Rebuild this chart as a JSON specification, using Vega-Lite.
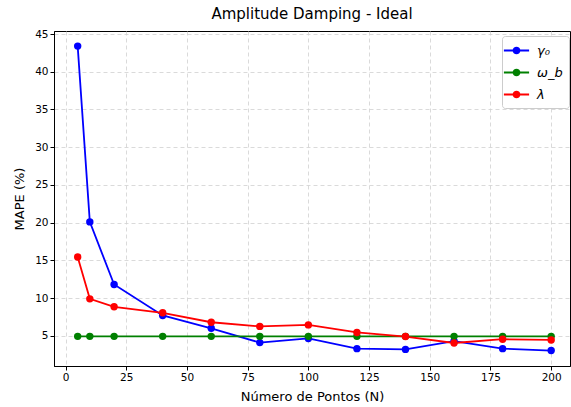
{
  "$schema": "https://vega.github.io/schema/vega-lite/v6.json",
  "width": 516,
  "height": 335,
  "autosize": {"type": "none"},
  "padding": {"left": 54, "top": 31, "right": 1, "bottom": 41},
  "background": "white",
  "title": {"text": "Amplitude Damping - Ideal", "font": "DejaVu Sans", "fontSize": 15, "fontWeight": "normal", "color": "black", "offset": 7},
  "config": {
    "view": {"stroke": "black", "strokeWidth": 1},
    "axis": {"labelFont": "DejaVu Sans", "titleFont": "DejaVu Sans", "labelFontSize": 10.5, "titleFontSize": 13, "titleFontWeight": "normal", "labelColor": "black", "titleColor": "black", "domainColor": "black", "tickColor": "black", "tickSize": 4, "gridColor": "#d0d0d0", "gridDash": [4, 3], "gridWidth": 0.8}
  },
  "data": {"values": [
    {"N": 5, "s": "γ₀", "v": 43.4}, {"N": 10, "s": "γ₀", "v": 20.1}, {"N": 20, "s": "γ₀", "v": 11.8}, {"N": 40, "s": "γ₀", "v": 7.7}, {"N": 60, "s": "γ₀", "v": 6.0}, {"N": 80, "s": "γ₀", "v": 4.1}, {"N": 100, "s": "γ₀", "v": 4.65}, {"N": 120, "s": "γ₀", "v": 3.3}, {"N": 140, "s": "γ₀", "v": 3.2}, {"N": 160, "s": "γ₀", "v": 4.3}, {"N": 180, "s": "γ₀", "v": 3.3}, {"N": 200, "s": "γ₀", "v": 3.05},
    {"N": 5, "s": "ω_b", "v": 4.93}, {"N": 10, "s": "ω_b", "v": 4.93}, {"N": 20, "s": "ω_b", "v": 4.93}, {"N": 40, "s": "ω_b", "v": 4.93}, {"N": 60, "s": "ω_b", "v": 4.93}, {"N": 80, "s": "ω_b", "v": 4.93}, {"N": 100, "s": "ω_b", "v": 4.93}, {"N": 120, "s": "ω_b", "v": 4.93}, {"N": 140, "s": "ω_b", "v": 4.93}, {"N": 160, "s": "ω_b", "v": 4.93}, {"N": 180, "s": "ω_b", "v": 4.93}, {"N": 200, "s": "ω_b", "v": 4.93},
    {"N": 5, "s": "λ", "v": 15.45}, {"N": 10, "s": "λ", "v": 9.9}, {"N": 20, "s": "λ", "v": 8.85}, {"N": 40, "s": "λ", "v": 8.05}, {"N": 60, "s": "λ", "v": 6.8}, {"N": 80, "s": "λ", "v": 6.25}, {"N": 100, "s": "λ", "v": 6.45}, {"N": 120, "s": "λ", "v": 5.45}, {"N": 140, "s": "λ", "v": 4.9}, {"N": 160, "s": "λ", "v": 4.05}, {"N": 180, "s": "λ", "v": 4.55}, {"N": 200, "s": "λ", "v": 4.45}
  ]},
  "mark": {"type": "line", "strokeWidth": 1.8, "point": {"filled": true, "size": 55, "opacity": 1}},
  "encoding": {
    "x": {"field": "N", "type": "quantitative", "title": "Número de Pontos (N)",
      "scale": {"domain": [-4.75, 207.75], "nice": false, "zero": false},
      "axis": {"values": [0, 25, 50, 75, 100, 125, 150, 175, 200], "grid": true, "titlePadding": 8}},
    "y": {"field": "v", "type": "quantitative", "title": "MAPE (%)",
      "scale": {"domain": [1.0, 45.4], "nice": false, "zero": false},
      "axis": {"values": [5, 10, 15, 20, 25, 30, 35, 40, 45], "grid": true, "titlePadding": 8}},
    "color": {"field": "s", "type": "nominal",
      "scale": {"domain": ["γ₀", "ω_b", "λ"], "range": ["#0000ff", "#008000", "#ff0000"]},
      "legend": {"title": null, "orient": "none", "legendX": 448, "legendY": 5,
        "symbolType": "M-1.7,0H1.7M-0.4,0a0.4,0.4 0 1,0 0.8,0a0.4,0.4 0 1,0 -0.8,0",
        "symbolSize": 220, "symbolStrokeWidth": 1.8, "symbolFillColor": null,
        "labelFont": "DejaVu Sans", "labelFontSize": 13, "labelFontStyle": "italic", "labelColor": "black",
        "rowPadding": 6, "padding": 6, "strokeColor": "#cccccc", "fillColor": "white", "cornerRadius": 3, "labelOffset": 12}}
  }
}
